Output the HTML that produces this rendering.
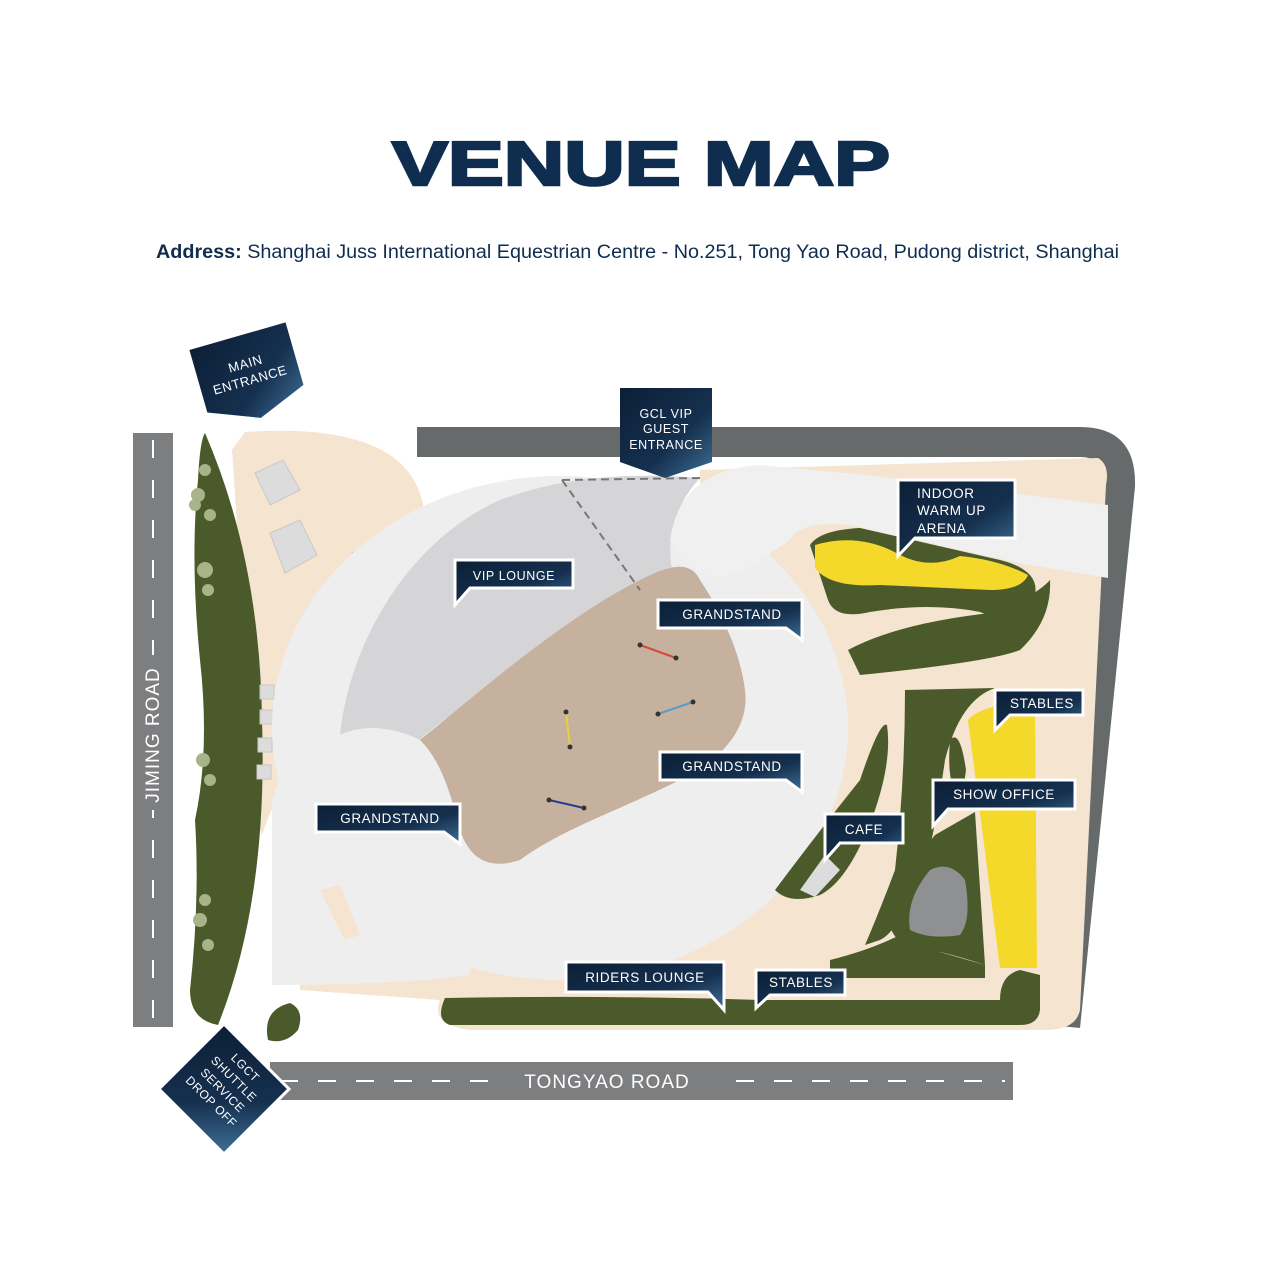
<!DOCTYPE html>
<html><head><meta charset="utf-8"><style>html,body{margin:0;padding:0;background:#fff}svg{display:block}</style></head><body>
<svg width="1280" height="1280" viewBox="0 0 1280 1280" xmlns="http://www.w3.org/2000/svg" font-family="Liberation Sans, sans-serif">
<defs>
<linearGradient id="lg" x1="0" y1="0" x2="1" y2="1">
<stop offset="0" stop-color="#0c1f36"/><stop offset="0.6" stop-color="#15304f"/><stop offset="1" stop-color="#3f6f96"/>
</linearGradient>
</defs>
<rect width="1280" height="1280" fill="#fff"/>
<text x="392" y="185" font-size="62" font-weight="bold" fill="#0f2d4f" stroke="#0f2d4f" stroke-width="2.5" textLength="498" lengthAdjust="spacingAndGlyphs">VENUE MAP</text>
<text x="156" y="258" font-size="19" fill="#0f2d4f" textLength="963" lengthAdjust="spacingAndGlyphs"><tspan font-weight="bold">Address:</tspan> Shanghai Juss International Equestrian Centre - No.251, Tong Yao Road, Pudong district, Shanghai</text>

<!-- roads -->
<rect x="133" y="433" width="40" height="594" fill="#7d7e80"/>
<line x1="153" y1="440" x2="153" y2="1020" stroke="#fff" stroke-width="2" stroke-dasharray="18,22"/>
<rect x="143" y="655" width="20" height="155" fill="#7d7e80"/>
<text transform="translate(159,735) rotate(-90)" text-anchor="middle" font-size="19" fill="#fff" letter-spacing="1">JIMING ROAD</text>
<rect x="270" y="1062" width="743" height="38" fill="#7d7e80"/>
<line x1="280" y1="1081" x2="1005" y2="1081" stroke="#fff" stroke-width="2" stroke-dasharray="18,20"/>
<rect x="490" y="1066" width="240" height="30" fill="#7d7e80"/>
<text x="607" y="1088" text-anchor="middle" font-size="19" fill="#fff" letter-spacing="1">TONGYAO ROAD</text>
<path d="M417 427 L1080 427 Q1137 427 1135 487 L1080 1028 L1050 1025 L1105 487 Q1106 457 1080 457 L417 457 Z" fill="#666a6b"/>

<!-- beige -->
<path d="M245 432 Q420 420 425 520 Q420 600 340 690 Q280 780 262 835 Q245 800 245 700 Q240 560 232 450 Z" fill="#f5e4d0"/>
<path d="M700 470 L1098 458 Q1110 465 1106 485 L1080 1010 Q1076 1030 1045 1030 L470 1030 Q430 1025 440 1000 L300 990 L300 900 L700 700 Z" fill="#f5e4d0"/>

<!-- green left -->
<path d="M205 433 Q260 560 262 720 Q268 900 218 1025 Q190 1020 190 990 Q200 900 195 820 Q210 750 200 660 Q190 560 198 480 Q200 440 205 433Z" fill="#4b5a2a"/>
<g fill="#a9b38a"><circle cx="205" cy="470" r="6"/><circle cx="198" cy="495" r="7"/><circle cx="210" cy="515" r="6"/><circle cx="195" cy="505" r="6"/><circle cx="205" cy="570" r="8"/><circle cx="208" cy="590" r="6"/><circle cx="203" cy="760" r="7"/><circle cx="210" cy="780" r="6"/><circle cx="205" cy="900" r="6"/><circle cx="200" cy="920" r="7"/><circle cx="208" cy="945" r="6"/></g>
<path d="M268 1040 Q262 1010 290 1003 Q305 1010 298 1030 Q285 1045 268 1040Z" fill="#4b5a2a"/>

<!-- tents -->
<g fill="#dcdcdc" stroke="#c8c8c8">
<polygon points="255,473 283,460 300,490 270,505"/><polygon points="270,533 300,520 317,555 285,573"/><polygon points="352,553 385,538 402,563 365,583"/>
<rect x="260" y="685" width="14" height="14"/><rect x="288" y="685" width="14" height="14"/><rect x="260" y="710" width="14" height="14"/><rect x="285" y="712" width="14" height="14"/><rect x="258" y="738" width="14" height="14"/><rect x="282" y="742" width="14" height="14"/><rect x="257" y="765" width="14" height="14"/>
</g>

<!-- stands -->
<ellipse cx="560" cy="728" rx="288" ry="252" fill="#eeeeef"/>
<path d="M272 985 L272 800 Q290 740 350 725 L470 800 L470 975 Q400 985 272 985 Z" fill="#eeeeef"/>
<path d="M320 890 L340 885 L360 935 L345 940 Z" fill="#f5e4d0"/>
<path d="M340 735 C350 640 410 540 500 500 C560 478 620 472 700 478 C680 500 665 530 672 570 C640 580 600 610 560 640 C500 680 440 720 420 740 C390 725 360 725 340 735 Z" fill="#d5d5d7"/>
<path d="M420 740 C470 700 560 620 640 580 C670 565 690 560 700 580 C720 610 740 650 745 690 C750 730 720 760 680 780 C620 810 560 830 520 860 C490 870 470 860 460 830 C450 790 440 760 420 740 Z" fill="#c5b19d"/>
<path d="M562 480 L640 590 M562 480 L700 478" stroke="#777" stroke-width="2" stroke-dasharray="8,5" fill="none"/>
<path d="M670 540 Q680 470 760 465 L865 475 L1108 505 L1108 578 L1030 565 L860 560 L850 530 Q800 520 790 540 L760 560 Q700 600 670 540Z" fill="#f0f0f1"/>
<path d="M790 540 Q800 520 850 525 L1050 570 L1050 640 L850 660 Q800 600 790 540Z" fill="#f5e4d0"/>
<g stroke-width="2"><line x1="640" y1="645" x2="676" y2="658" stroke="#d34a3a"/><line x1="566" y1="712" x2="570" y2="747" stroke="#e3d23c"/><line x1="658" y1="714" x2="693" y2="702" stroke="#5b9bc8"/><line x1="549" y1="800" x2="584" y2="808" stroke="#2d3a8c"/></g>
<g fill="#333"><circle cx="640" cy="645" r="2.5"/><circle cx="676" cy="658" r="2.5"/><circle cx="566" cy="712" r="2.5"/><circle cx="570" cy="747" r="2.5"/><circle cx="658" cy="714" r="2.5"/><circle cx="693" cy="702" r="2.5"/><circle cx="549" cy="800" r="2.5"/><circle cx="584" cy="808" r="2.5"/></g>

<!-- right green/yellow -->
<path d="M810 545 Q820 530 860 528 L1000 560 Q1040 570 1035 595 Q1020 630 980 612 Q930 602 870 612 Q835 620 828 600 Z" fill="#4b5a2a"/>
<path d="M848 650 Q900 622 1000 612 Q1040 592 1050 580 Q1052 620 1020 650 Q990 662 860 675 Z" fill="#4b5a2a"/>
<path d="M815 545 Q860 532 900 555 Q930 570 960 556 Q1000 560 1028 575 Q1022 590 990 590 L880 585 Q830 588 815 568 Z" fill="#f4d92a"/>
<path d="M905 690 L995 688 Q960 700 945 760 Q935 830 925 870 Q900 930 880 940 L865 945 Q880 910 895 870 Q905 780 905 690 Z" fill="#4b5a2a"/>
<path d="M775 890 Q820 830 860 780 Q880 720 887 725 Q892 760 875 810 Q850 880 820 895 Q790 905 775 890 Z" fill="#4b5a2a"/>
<path d="M935 835 L975 812 L985 965 Q940 950 905 945 Q880 930 895 895 Q915 860 935 835 Z" fill="#4b5a2a"/>
<path d="M930 870 Q950 860 965 880 Q972 920 960 935 Q930 940 910 930 Q905 900 930 870Z" fill="#8e9092"/>
<path d="M830 960 Q870 950 900 935 L940 952 L985 965 L985 978 L830 978 Z" fill="#4b5a2a"/>
<path d="M950 740 Q960 728 966 770 L962 800 Q946 790 950 740 Z" fill="#4b5a2a"/>
<path d="M968 720 Q980 705 1035 700 L1037 968 L1000 968 Z" fill="#f4d92a"/>
<path d="M445 998 Q600 995 760 1000 L1000 1000 Q1000 975 1020 970 L1040 975 L1040 1010 Q1038 1025 1020 1025 L450 1025 Q435 1020 445 998 Z" fill="#4b5a2a"/>
<polygon points="800,890 825,855 840,870 815,897" fill="#dcdcdc"/>

<!-- labels -->
<g font-size="13.5" fill="#fff" letter-spacing="0.6">
<g transform="rotate(-16 247 373)"><path d="M198 335 L298 335 L298 400 L248 420 L198 400 Z" fill="url(#lg)"/><text x="248" y="368" text-anchor="middle" font-size="13">MAIN</text><text x="248" y="385" text-anchor="middle" font-size="13">ENTRANCE</text></g>
<path d="M620 388 L712 388 L712 462 L665 478 L620 462 Z" fill="url(#lg)"/>
<text x="666" y="418" text-anchor="middle" font-size="12.5">GCL VIP</text><text x="666" y="433" text-anchor="middle" font-size="12.5">GUEST</text><text x="666" y="449" text-anchor="middle" font-size="12.5">ENTRANCE</text>

<g stroke="#fff" stroke-width="3" fill="url(#lg)">
<path d="M898 480 L1015 480 L1015 538 L915 538 L898 556 Z"/>
<path d="M455 560 L573 560 L573 588 L470 588 L455 605 Z"/>
<path d="M658 600 L802 600 L802 640 L786 628 L658 628 Z"/>
<path d="M660 752 L802 752 L802 792 L786 780 L660 780 Z"/>
<path d="M316 804 L460 804 L460 844 L444 832 L316 832 Z"/>
<path d="M995 690 L1083 690 L1083 715 L1010 715 L995 730 Z"/>
<path d="M933 780 L1075 780 L1075 809 L948 809 L933 826 Z"/>
<path d="M825 814 L903 814 L903 843 L840 843 L825 860 Z"/>
<path d="M566 962 L724 962 L724 1010 L708 992 L566 992 Z"/>
<path d="M756 970 L845 970 L845 995 L770 995 L756 1008 Z"/>
</g>
<text x="917" y="498">INDOOR</text><text x="917" y="515">WARM UP</text><text x="917" y="533">ARENA</text>
<text x="514" y="580" text-anchor="middle" font-size="12.5">VIP LOUNGE</text>
<text x="732" y="619" text-anchor="middle">GRANDSTAND</text>
<text x="732" y="771" text-anchor="middle">GRANDSTAND</text>
<text x="390" y="823" text-anchor="middle">GRANDSTAND</text>
<text x="1042" y="708" text-anchor="middle">STABLES</text>
<text x="1004" y="799" text-anchor="middle">SHOW OFFICE</text>
<text x="864" y="834" text-anchor="middle">CAFE</text>
<text x="645" y="982" text-anchor="middle">RIDERS LOUNGE</text>
<text x="801" y="987" text-anchor="middle">STABLES</text>
<g transform="rotate(45 224 1089)"><path d="M178 1043 L270 1043 L270 1135 L178 1135 Z" fill="url(#lg)" stroke="#fff" stroke-width="3"/>
<text x="224" y="1063" text-anchor="middle" font-size="12">LGCT</text><text x="224" y="1079" text-anchor="middle" font-size="12">SHUTTLE</text><text x="224" y="1095" text-anchor="middle" font-size="12">SERVICE</text><text x="224" y="1111" text-anchor="middle" font-size="12">DROP OFF</text></g>
</g>
</svg>
</body></html>
